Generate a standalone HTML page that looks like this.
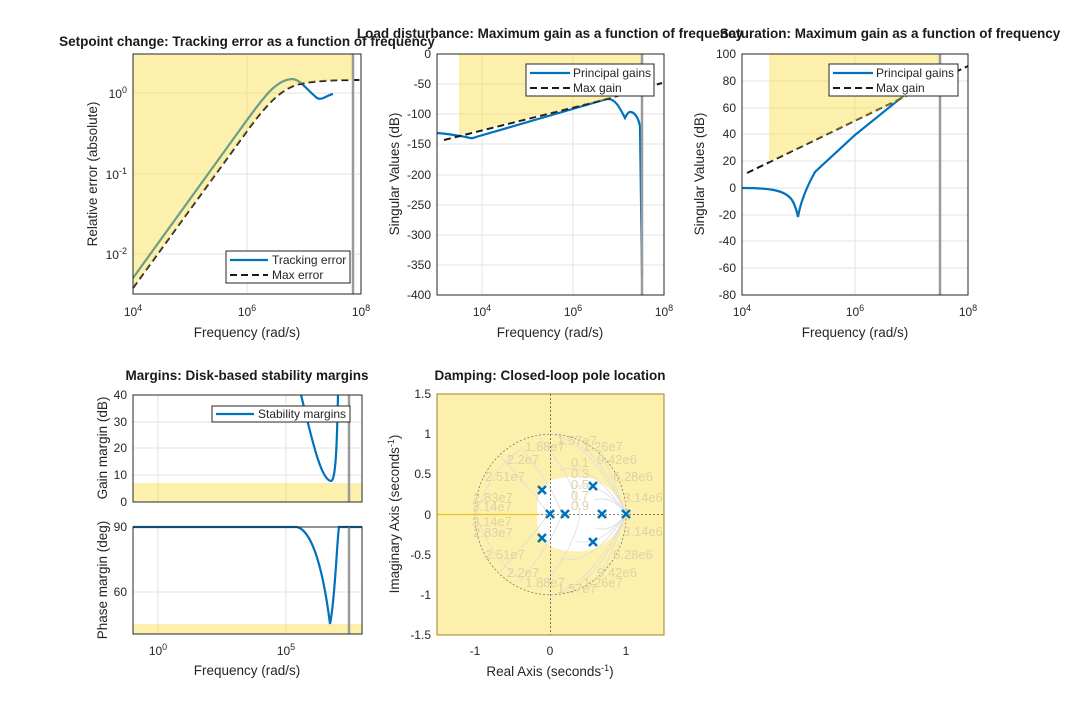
<!DOCTYPE html>
<html><head><meta charset="utf-8"><style>
html,body{margin:0;padding:0;background:#fff;}
svg{display:block;font-family:"Liberation Sans",Arial,sans-serif;}
.t{font-size:12px;fill:#262626}
.lb{font-size:13.5px;fill:#262626}
.ti{font-size:13.5px;font-weight:bold;fill:#1a1a1a}
.g{stroke:#e3e3e3;stroke-width:1}
.box{fill:none;stroke:#262626;stroke-width:1}
.bl{fill:none;stroke:#0072bd;stroke-width:2.2}
.ds{fill:none;stroke:#1a1a1a;stroke-width:2;stroke-dasharray:7,4}
.y{fill:rgba(250,220,60,0.42)}
.gl{stroke:#9a9a9a;stroke-width:2.5}
.zl{font-size:13px;fill:#ddd3a3}
.zg{fill:none;stroke:#dcdcdc;stroke-width:0.8}
</style></head><body>
<svg width="1071" height="714" viewBox="0 0 1071 714">
<rect width="1071" height="714" fill="#fff"/>

<!-- ===== Plot 1 ===== -->
<rect x="133" y="54" width="228" height="240" fill="#fff"/>
<line class="g" x1="247" y1="54" x2="247" y2="294"/>
<line class="g" x1="133" y1="93" x2="361" y2="93"/>
<line class="g" x1="133" y1="174" x2="361" y2="174"/>
<line class="g" x1="133" y1="254" x2="361" y2="254"/>
<path class="bl" d="M133,278 L247,120 C262,100 275,80 292,79 C300,79 307,90 317,98 C322,101 327,95 333,94"/>
<path class="ds" d="M133,288 L250,127 C268,103 282,88 300,84 C315,81 330,80 361,80"/>
<path class="y" d="M133,54 L133,288 L250,127 C268,103 282,88 300,84 C315,81 330,80 353,80 L353,54 Z"/>
<line class="gl" x1="353" y1="54" x2="353" y2="294"/>
<rect class="box" x="133" y="54" width="228" height="240"/>
<text class="t" x="133" y="316" text-anchor="middle">10<tspan font-size="9" dy="-5">4</tspan></text>
<text class="t" x="247" y="316" text-anchor="middle">10<tspan font-size="9" dy="-5">6</tspan></text>
<text class="t" x="361" y="316" text-anchor="middle">10<tspan font-size="9" dy="-5">8</tspan></text>
<text class="t" x="127" y="98" text-anchor="end">10<tspan font-size="9" dy="-5">0</tspan></text>
<text class="t" x="127" y="179" text-anchor="end">10<tspan font-size="9" dy="-5">-1</tspan></text>
<text class="t" x="127" y="259" text-anchor="end">10<tspan font-size="9" dy="-5">-2</tspan></text>
<text class="lb" x="247" y="337" text-anchor="middle">Frequency (rad/s)</text>
<text class="lb" transform="translate(97,174) rotate(-90)" text-anchor="middle">Relative error (absolute)</text>
<rect x="226" y="251" width="124" height="32" fill="#fff" stroke="#262626"/>
<line x1="230" y1="260" x2="268" y2="260" stroke="#0072bd" stroke-width="2.2"/>
<line x1="230" y1="275" x2="268" y2="275" stroke="#1a1a1a" stroke-width="2" stroke-dasharray="7,4"/>
<text class="t" x="272" y="264">Tracking error</text>
<text class="t" x="272" y="279">Max error</text>
<text class="ti" x="247" y="46" text-anchor="middle">Setpoint change: Tracking error as a function of frequency</text>

<!-- ===== Plot 2 ===== -->
<line class="g" x1="482" y1="54" x2="482" y2="295"/>
<line class="g" x1="573" y1="54" x2="573" y2="295"/>
<g class="g">
<line x1="437" y1="84" x2="664" y2="84"/><line x1="437" y1="114" x2="664" y2="114"/>
<line x1="437" y1="144" x2="664" y2="144"/><line x1="437" y1="175" x2="664" y2="175"/>
<line x1="437" y1="205" x2="664" y2="205"/><line x1="437" y1="235" x2="664" y2="235"/>
<line x1="437" y1="265" x2="664" y2="265"/>
</g>
<path class="bl" d="M437,133 C450,134 460,136 466,137 C470,138 472,139 476,137 L607,99 C615,98 620,108 625,118 C627,114 629,111 631,112 C636,113 639,120 640,127 L642,275"/>
<path class="ds" d="M444,140 L607,99 L662,83"/>
<path class="y" d="M459,54 L459,135 L607,99 L642,90 L642,54 Z"/>
<line class="gl" x1="642" y1="54" x2="642" y2="295"/>
<rect class="box" x="437" y="54" width="227" height="241"/>
<text class="t" x="482" y="316" text-anchor="middle">10<tspan font-size="9" dy="-5">4</tspan></text>
<text class="t" x="573" y="316" text-anchor="middle">10<tspan font-size="9" dy="-5">6</tspan></text>
<text class="t" x="664" y="316" text-anchor="middle">10<tspan font-size="9" dy="-5">8</tspan></text>
<g class="t" text-anchor="end">
<text x="431" y="58">0</text><text x="431" y="88">-50</text><text x="431" y="118">-100</text>
<text x="431" y="148">-150</text><text x="431" y="179">-200</text><text x="431" y="209">-250</text>
<text x="431" y="239">-300</text><text x="431" y="269">-350</text><text x="431" y="299">-400</text>
</g>
<text class="lb" x="550" y="337" text-anchor="middle">Frequency (rad/s)</text>
<text class="lb" transform="translate(399,174) rotate(-90)" text-anchor="middle">Singular Values (dB)</text>
<rect x="526" y="64" width="128" height="32" fill="#fff" stroke="#262626"/>
<line x1="530" y1="73" x2="570" y2="73" stroke="#0072bd" stroke-width="2.2"/>
<line x1="530" y1="88" x2="570" y2="88" stroke="#1a1a1a" stroke-width="2" stroke-dasharray="7,4"/>
<text class="t" x="573" y="77">Principal gains</text>
<text class="t" x="573" y="92">Max gain</text>

<!-- ===== Plot 3 ===== -->
<line class="g" x1="855" y1="54" x2="855" y2="295"/>
<g class="g">
<line x1="742" y1="81" x2="968" y2="81"/><line x1="742" y1="108" x2="968" y2="108"/>
<line x1="742" y1="134" x2="968" y2="134"/><line x1="742" y1="161" x2="968" y2="161"/>
<line x1="742" y1="188" x2="968" y2="188"/><line x1="742" y1="215" x2="968" y2="215"/>
<line x1="742" y1="241" x2="968" y2="241"/><line x1="742" y1="268" x2="968" y2="268"/>
</g>
<path class="bl" d="M742,188 C770,188 785,190 792,200 C795,205 797,212 798,217 C800,205 805,190 815,172 L855,135 L907,93 L918,86"/>
<path class="ds" d="M747,173 L968,66"/>
<path class="y" d="M769,54 L769,162 L940,81 L940,54 Z"/>
<line class="gl" x1="940" y1="54" x2="940" y2="295"/>
<rect class="box" x="742" y="54" width="226" height="241"/>
<text class="t" x="742" y="316" text-anchor="middle">10<tspan font-size="9" dy="-5">4</tspan></text>
<text class="t" x="855" y="316" text-anchor="middle">10<tspan font-size="9" dy="-5">6</tspan></text>
<text class="t" x="968" y="316" text-anchor="middle">10<tspan font-size="9" dy="-5">8</tspan></text>
<g class="t" text-anchor="end">
<text x="736" y="58">100</text><text x="736" y="85">80</text><text x="736" y="112">60</text>
<text x="736" y="138">40</text><text x="736" y="165">20</text><text x="736" y="192">0</text>
<text x="736" y="219">-20</text><text x="736" y="245">-40</text><text x="736" y="272">-60</text>
<text x="736" y="299">-80</text>
</g>
<text class="lb" x="855" y="337" text-anchor="middle">Frequency (rad/s)</text>
<text class="lb" transform="translate(704,174) rotate(-90)" text-anchor="middle">Singular Values (dB)</text>
<rect x="829" y="64" width="129" height="32" fill="#fff" stroke="#262626"/>
<line x1="833" y1="73" x2="873" y2="73" stroke="#0072bd" stroke-width="2.2"/>
<line x1="833" y1="88" x2="873" y2="88" stroke="#1a1a1a" stroke-width="2" stroke-dasharray="7,4"/>
<text class="t" x="876" y="77">Principal gains</text>
<text class="t" x="876" y="92">Max gain</text>

<text class="ti" x="550" y="38" text-anchor="middle">Load disturbance: Maximum gain as a function of frequency</text>
<text class="ti" x="890" y="38" text-anchor="middle">Saturation: Maximum gain as a function of frequency</text>

<!-- ===== Margins ===== -->
<g class="g">
<line x1="158" y1="395" x2="158" y2="502"/><line x1="286" y1="395" x2="286" y2="502"/>
<line x1="133" y1="422" x2="362" y2="422"/><line x1="133" y1="448" x2="362" y2="448"/>
<line x1="133" y1="475" x2="362" y2="475"/>
<line x1="158" y1="527" x2="158" y2="634"/><line x1="286" y1="527" x2="286" y2="634"/>
<line x1="133" y1="592" x2="362" y2="592"/>
</g>
<path class="bl" d="M301,395 C310,430 320,480 331,481 C336,481 337,440 338,395"/>
<path class="bl" d="M133,527 L297,527 C310,530 322,560 330,624 C335,600 337,540 339,527 L362,527"/>
<rect class="y" x="133" y="483" width="229" height="19"/>
<rect class="y" x="133" y="624" width="229" height="10"/>
<line class="gl" x1="349" y1="395" x2="349" y2="502"/>
<line class="gl" x1="349" y1="527" x2="349" y2="634"/>
<rect class="box" x="133" y="395" width="229" height="107"/>
<rect class="box" x="133" y="527" width="229" height="107"/>
<g class="t" text-anchor="end">
<text x="127" y="399">40</text><text x="127" y="426">30</text><text x="127" y="452">20</text>
<text x="127" y="479">10</text><text x="127" y="506">0</text>
<text x="127" y="531">90</text><text x="127" y="596">60</text>
</g>
<text class="t" x="158" y="655" text-anchor="middle">10<tspan font-size="9" dy="-5">0</tspan></text>
<text class="t" x="286" y="655" text-anchor="middle">10<tspan font-size="9" dy="-5">5</tspan></text>
<text class="lb" x="247" y="675" text-anchor="middle">Frequency (rad/s)</text>
<text class="lb" transform="translate(107,448) rotate(-90)" text-anchor="middle">Gain margin (dB)</text>
<text class="lb" transform="translate(107,580) rotate(-90)" text-anchor="middle">Phase margin (deg)</text>
<rect x="212" y="406" width="138" height="16" fill="#fff" stroke="#262626"/>
<line x1="216" y1="414" x2="254" y2="414" stroke="#0072bd" stroke-width="2.2"/>
<text class="t" x="258" y="418">Stability margins</text>
<text class="ti" x="247" y="380" text-anchor="middle">Margins: Disk-based stability margins</text>

<!-- ===== Pole plot ===== -->
<path class="y" fill-rule="evenodd" d="M437,394 L664,394 L664,635 L437,635 Z M626,514 C620,498 610,487 595,479 C580,476 565,476 552,480 C543,486 537,496 537,507 L537,520 C537,531 543,541 552,547 C565,552 580,553 595,549 C610,541 620,530 626,514 Z"/>
<g class="zg">
<ellipse cx="550.5" cy="514.5" rx="75.7" ry="80.3" stroke="#777" stroke-dasharray="2,2"/>
<path d="M626,514 Q590,440 550,434"/><path d="M626,514 Q600,450 570,440"/>
<path d="M626,514 Q610,470 600,450"/><path d="M626,514 Q590,460 560,470"/>
<path d="M626,514 Q600,480 575,487"/><path d="M626,514 Q612,495 595,500"/>
<path d="M626,514 Q590,588 550,595"/><path d="M626,514 Q600,578 570,588"/>
<path d="M626,514 Q610,558 600,578"/><path d="M626,514 Q590,568 560,558"/>
<path d="M626,514 Q600,548 575,541"/><path d="M626,514 Q612,533 595,528"/>
<path d="M500,456 Q540,500 548,514"/><path d="M520,446 Q555,490 562,514"/>
<path d="M540,438 Q575,480 580,514"/><path d="M500,572 Q540,528 548,514"/>
<path d="M520,582 Q555,538 562,514"/><path d="M540,590 Q575,548 580,514"/>
<path d="M476,514 Q490,470 520,450"/><path d="M476,514 Q490,558 520,578"/>
</g>
<line x1="550.5" y1="394" x2="550.5" y2="635" stroke="#555" stroke-width="0.8" stroke-dasharray="2,2"/>
<line x1="437" y1="514.5" x2="664" y2="514.5" stroke="#555" stroke-width="0.8" stroke-dasharray="2,2"/>
<line x1="437" y1="514.5" x2="540" y2="514.5" stroke="#f0c020" stroke-width="1.2"/>
<g class="zl" text-anchor="middle">
<text x="545" y="451">1.88e7</text><text x="577" y="445">1.57e7</text><text x="603" y="451">1.26e7</text>
<text x="523" y="464">2.2e7</text><text x="617" y="464">9.42e6</text>
<text x="505" y="481">2.51e7</text><text x="633" y="481">6.28e6</text>
<text x="493" y="502">2.83e7</text><text x="643" y="502">3.14e6</text>
<text x="492" y="511">3.14e7</text><text x="492" y="526">3.14e7</text>
<text x="493" y="537">2.83e7</text><text x="643" y="536">3.14e6</text>
<text x="505" y="559">2.51e7</text><text x="633" y="559">6.28e6</text>
<text x="523" y="577">2.2e7</text><text x="617" y="577">9.42e6</text>
<text x="545" y="587">1.88e7</text><text x="577" y="593">1.57e7</text><text x="603" y="587">1.26e7</text>
<text x="580" y="467">0.1</text><text x="580" y="478">0.3</text><text x="580" y="489">0.5</text>
<text x="580" y="500">0.7</text><text x="580" y="510">0.9</text>
</g>
<g stroke="#0072bd" stroke-width="2.6" fill="none">
<path d="M538,486 l8,8 m0,-8 l-8,8"/><path d="M538,534 l8,8 m0,-8 l-8,8"/>
<path d="M546,510 l8,8 m0,-8 l-8,8"/><path d="M561,510 l8,8 m0,-8 l-8,8"/>
<path d="M589,482 l8,8 m0,-8 l-8,8"/><path d="M589,538 l8,8 m0,-8 l-8,8"/>
<path d="M598,510 l8,8 m0,-8 l-8,8"/><path d="M622,510 l8,8 m0,-8 l-8,8"/>
</g>
<rect x="437" y="394" width="227" height="241" fill="none" stroke="#9a8520" stroke-width="1"/>
<g class="t" text-anchor="end">
<text x="431" y="398">1.5</text><text x="431" y="438">1</text><text x="431" y="478">0.5</text>
<text x="431" y="519">0</text><text x="431" y="559">-0.5</text><text x="431" y="599">-1</text>
<text x="431" y="639">-1.5</text>
</g>
<g class="t" text-anchor="middle">
<text x="475" y="655">-1</text><text x="550" y="655">0</text><text x="626" y="655">1</text>
</g>
<text class="lb" x="550" y="676" text-anchor="middle">Real Axis (seconds<tspan font-size="9" dy="-5">-1</tspan><tspan dy="5">)</tspan></text>
<text class="lb" transform="translate(399,514) rotate(-90)" text-anchor="middle">Imaginary Axis (seconds<tspan font-size="9" dy="-5">-1</tspan><tspan dy="5">)</tspan></text>
<text class="ti" x="550" y="380" text-anchor="middle">Damping: Closed-loop pole location</text>
</svg>
</body></html>
